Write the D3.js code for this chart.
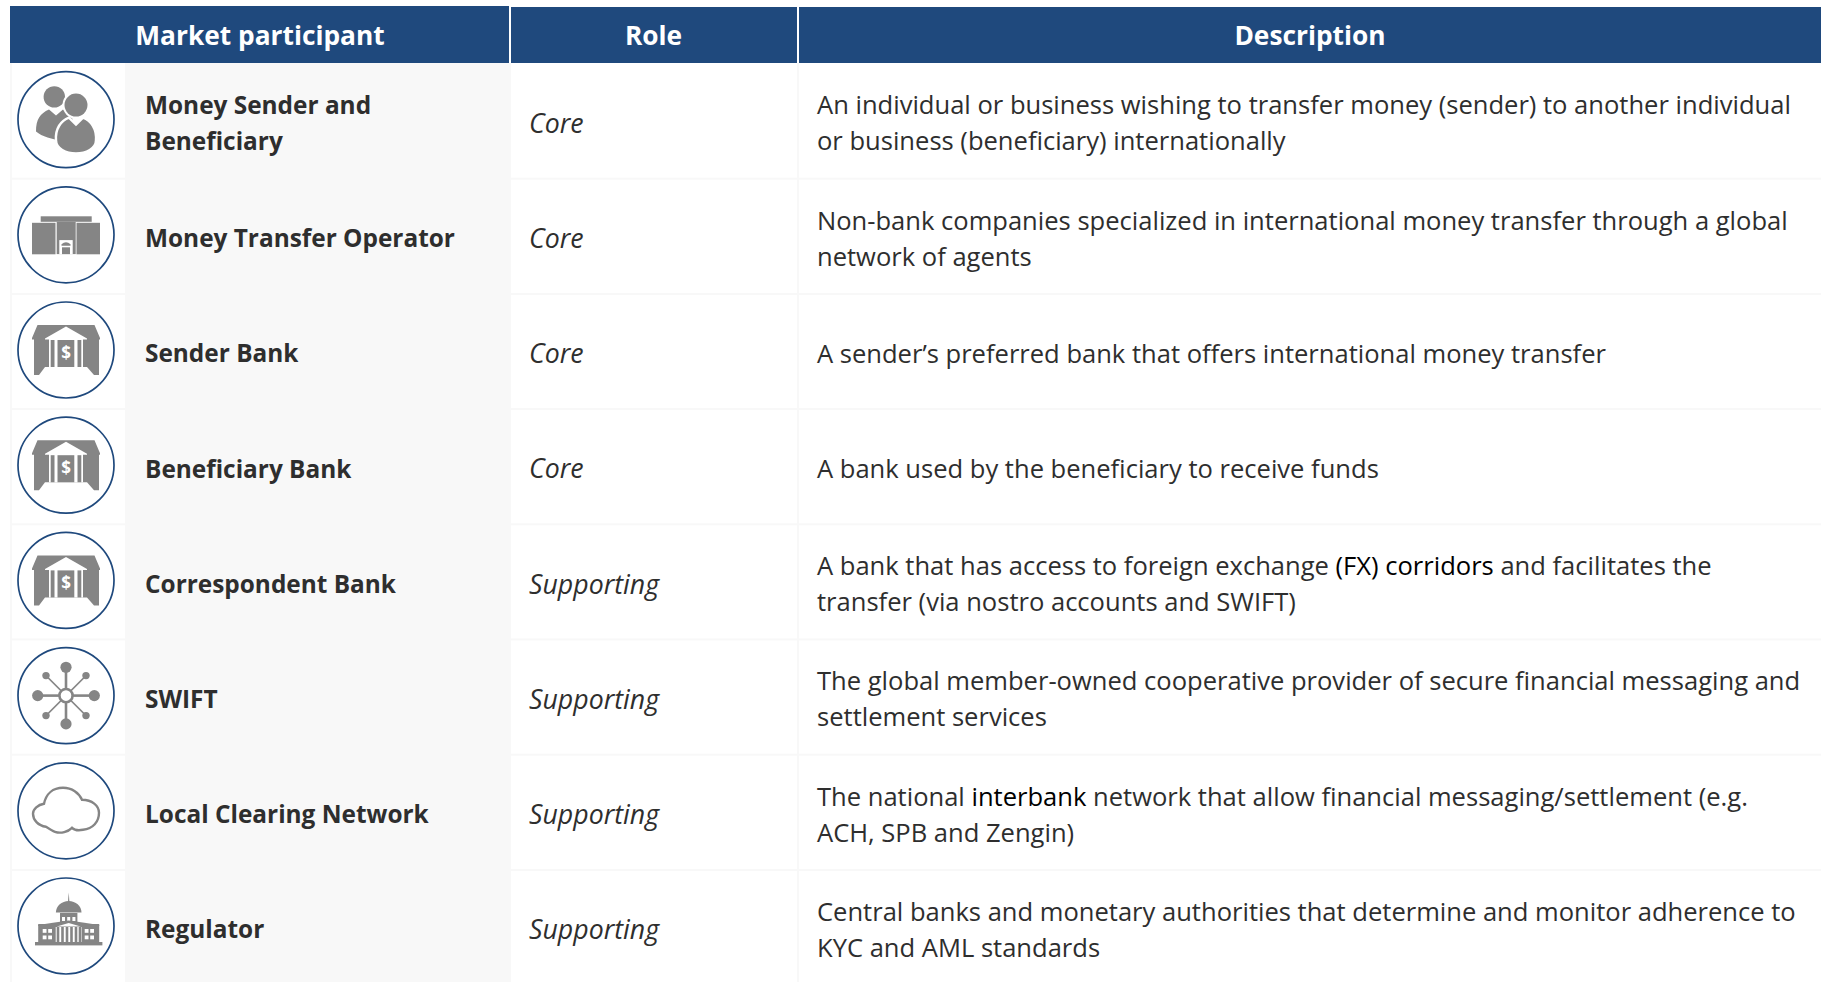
<!DOCTYPE html>
<html>
<head>
<meta charset="utf-8">
<script src="https://cdn.jsdelivr.net/npm/d3@7"></script>
<style>
html, body { margin: 0; padding: 0; background: #fff; overflow: hidden; }
svg { display: block; }
text { font-family: "Open Sans", sans-serif; }
</style>
</head>
<body>
<div id="main_area"></div>
<script>
var headers = ["Market participant", "Role", "Description"];
var participants = ["Money Sender and Beneficiary", "Money Transfer Operator", "Sender Bank", "Beneficiary Bank",
    "Correspondent Bank", "SWIFT", "Local Clearing Network", "Regulator"];
var participantLines = [["Money Sender and", "Beneficiary"], ["Money Transfer Operator"], ["Sender Bank"], ["Beneficiary Bank"],
    ["Correspondent Bank"], ["SWIFT"], ["Local Clearing Network"], ["Regulator"]];
var roles = ["Core", "Core", "Core", "Core", "Supporting", "Supporting", "Supporting", "Supporting"];
var icons = ["people", "operator", "bank", "bank", "bank", "network", "cloud", "capitol"];
var descriptions = [
    ["An individual or business wishing to transfer money (sender) to another individual", "or business (beneficiary) internationally"],
    ["Non-bank companies specialized in international money transfer through a global", "network of agents"],
    ["A sender\u2019s preferred bank that offers international money transfer"],
    ["A bank used by the beneficiary to receive funds"],
    ["A bank that has access to foreign exchange |(FX) corridors| and facilitates the", "transfer (via nostro accounts and SWIFT)"],
    ["The global member-owned cooperative provider of secure financial messaging and", "settlement services"],
    ["The national |interbank| network that allow financial messaging/settlement (e.g.", "ACH, SPB and Zengin)"],
    ["Central banks and monetary authorities that determine and monitor adherence to", "KYC and AML standards"]
];

var width = 1821, height = 982;
var navy = "#1f497d", grey = "#858585", ink = "#2e2e2e";

function shape(g, path, fill) {
    return g.append("path").attr("d", path).attr("fill", fill || grey);
}
function box(g, x, y, w, h, fill) {
    return g.append("rect").attr("x", x).attr("y", y).attr("width", w).attr("height", h).attr("fill", fill || grey);
}

var drawIcon = {
    people: function (g) {
        g.append("circle").attr("cx", -11.7).attr("cy", -22.7).attr("r", 10.7).attr("fill", grey);
        shape(g, "M-30,12 C-30,0 -26,-6 -17,-10 L-10,-4 L-3,-10 C3,-8 8,-3 8,10 L-3,21 C-14,20 -24,17 -30,12Z");
        g.append("circle").attr("cx", 10).attr("cy", -14.5).attr("r", 13.5).attr("fill", "#fff");
        g.append("circle").attr("cx", 10).attr("cy", -14.5).attr("r", 11.5).attr("fill", grey);
        shape(g, "M-10,21 C-11,9 -5,1 3,-2 L10,5 L17,-2 C25,1 31,9 30,21 C30,29 20,34 10,34 C0,34 -10,29 -10,21Z")
            .attr("stroke", "#fff").attr("stroke-width", 2.5);
    },
    operator: function (g) {
        box(g, -25.3, -18.5, 51, 5.5);
        box(g, -34, -12, 23.5, 31.5);
        box(g, 10.5, -12, 23.5, 31.5);
        box(g, -9.3, -13, 19, 32.3);
        box(g, -6.7, 5.3, 13.4, 14, "#fff");
        shape(g, "M-4.5,11 L-4.5,9.5 Q0,5.5 4.5,9.5 L4.5,11Z");
        box(g, -4, 12.5, 8, 6.8);
    },
    bank: function (g) {
        shape(g, "M-28.5,-25 L28.5,-25 L34,-12 L34,-10.5 L33,-10.5 L33,25 L28,25 L21,17 L-21,17 L-27,25 L-32,25 L-32,-10.5 L-34,-10.5 L-34,-12Z");
        shape(g, "M0,-23.5 L21,-11.5 L21,-10.5 L17,-10.5 L17,17 L-17,17 L-17,-10.5 L-21,-10.5 L-21,-11.5Z", "#fff");
        box(g, -15.3, -10, 3.8, 27);
        box(g, 11.5, -10, 3.8, 27);
        box(g, -8.5, -10, 16.8, 27);
        g.append("text").attr("x", 0).attr("y", 9).attr("text-anchor", "middle")
            .attr("font-size", 17).attr("font-weight", 700).attr("fill", "#fff").text("$");
    },
    network: function (g) {
        var big = [[0, -28.3], [28.3, 0], [0, 28.3], [-28.3, 0]];
        var small = [[-20, -20], [20, -20], [20, 20], [-20, 20]];
        big.forEach(function (p) {
            g.append("line").attr("x2", p[0]).attr("y2", p[1]).attr("stroke", grey).attr("stroke-width", 2.6);
            g.append("circle").attr("cx", p[0]).attr("cy", p[1]).attr("r", 5.6).attr("fill", grey);
        });
        small.forEach(function (p) {
            g.append("line").attr("x2", p[0]).attr("y2", p[1]).attr("stroke", grey).attr("stroke-width", 1.5);
            g.append("circle").attr("cx", p[0]).attr("cy", p[1]).attr("r", 3.7).attr("fill", grey);
        });
        g.append("circle").attr("r", 6.6).attr("fill", "#fff").attr("stroke", grey).attr("stroke-width", 2.6);
    },
    cloud: function (g) {
        g.append("path")
            .attr("d", "M-22,-7 C-20,-17 -13,-23 -3,-23 C6,-23 13,-18 16,-11 C26,-11 33,-5 33,2 C33,11 27,18 17,19 C12,20 8,19 6,17 C2,21 -5,23 -11,21 C-14,20 -17,18 -20,16 C-28,15 -33,9 -33,3 C-33,-2 -28,-6 -22,-7Z")
            .attr("fill", "none")
            .attr("stroke", grey)
            .attr("stroke-width", 2.4);
    },
    capitol: function (g) {
        var c = g.append("g").attr("transform", "translate(2.7,0)");
        shape(c, "M-0.9,-22 L0,-33.5 L0.9,-22Z");
        shape(c, "M-12.8,-13.5 C-12.8,-20 -7,-25 0,-25 C7,-25 12.8,-20 12.8,-13.5Z");
        box(c, -8.7, -13, 17.4, 10);
        [-6.7, -1.5, 3.7].forEach(function (x) { box(c, x, -9, 3, 4, "#fff"); });
        box(c, -30.5, -2, 61, 18);
        shape(c, "M-30.5,-1 L-14,-3.5 L0,-5.5 L14,-3.5 L30.5,-1 L30.5,0 L-30.5,0Z");
        shape(c, "M-12,0.5 L0,-3 L12,0.5Z", "#fff");
        box(c, -13, 1, 26, 15, "#fff");
        [-12, -7.5, -3, 1.5, 6, 10].forEach(function (x) { box(c, x, 1, 2.6, 15); });
        [-26, -20.5, 16, 21.5].forEach(function (x) {
            box(c, x, 3, 3.8, 3.8, "#fff");
            box(c, x, 9.5, 3.8, 3.8, "#fff");
        });
        box(c, -33.7, 16, 67.4, 3.4);
    }
};

var svg = d3.select("div#main_area").append("svg")
    .attr("width", width)
    .attr("height", height);

// 行的位置
var yRow = d3.scaleBand()
    .domain(participants)
    .range([63.5, 63.5 + 8 * 115.2])
    .paddingInner(0.0174)
    .paddingOuter(0.0087);

// 表头
var headerCells = [[10, 6, 499], [511, 7, 286], [799, 7, 1022]];
var headerG = svg.append("g").selectAll("g").data(headers).enter().append("g");
headerG.append("rect")
    .attr("x", function (d, i) { return headerCells[i][0]; })
    .attr("y", function (d, i) { return headerCells[i][1]; })
    .attr("width", function (d, i) { return headerCells[i][2]; })
    .attr("height", function (d, i) { return 63 - headerCells[i][1]; })
    .attr("fill", navy);
headerG.append("text")
    .attr("x", function (d, i) { return [260, 653.5, 1310][i]; })
    .attr("y", 45)
    .attr("text-anchor", "middle")
    .attr("font-size", 26.3)
    .attr("font-weight", 700)
    .attr("fill", "#fff")
    .text(function (d) { return d; });

// 背景
svg.append("rect").attr("x", 125).attr("y", 63).attr("width", 386).attr("height", height - 63).attr("fill", "#f8f8f8");
svg.append("rect").attr("x", 797).attr("y", 63).attr("width", 2).attr("height", height - 63).attr("fill", "#f8f8f8");

var rows = svg.append("g").selectAll("g").data(participants).enter().append("g")
    .attr("transform", function (d) { return "translate(0," + yRow(d) + ")"; });

// 行之间的分隔
rows.append("rect").attr("x", 12).attr("y", yRow.bandwidth()).attr("width", 113).attr("height", 2).attr("fill", "#f8f8f8");
rows.append("rect").attr("x", 511).attr("y", yRow.bandwidth()).attr("width", width - 511).attr("height", 2).attr("fill", "#f8f8f8");
svg.append("rect").attr("x", 10).attr("y", 63).attr("width", 2).attr("height", height - 63).attr("fill", "#f8f8f8");

var mid = yRow.bandwidth() / 2;

rows.append("circle")
    .attr("cx", 66).attr("cy", mid - 1.5).attr("r", 48)
    .attr("fill", "#fff")
    .attr("stroke", navy)
    .attr("stroke-width", 1.7);

// 参与者名称
rows.each(function (d, i) {
    var lines = participantLines[i];
    d3.select(this).selectAll("text.name").data(lines).enter().append("text")
        .attr("class", "name")
        .attr("x", 145)
        .attr("y", function (l, j) { return mid + 11 - (lines.length - 1) * 18 + j * 36; })
        .attr("font-size", 24.4)
        .attr("font-weight", 700)
        .attr("fill", ink)
        .text(function (l) { return l; });
});

// 角色
rows.append("text")
    .attr("x", 529)
    .attr("y", mid + 11.7)
    .attr("font-size", 26.7)
    .attr("font-style", "italic")
    .attr("fill", ink)
    .text(function (d, i) { return roles[i]; });

// 描述，|...| 之间的文字颜色更深
rows.each(function (d, i) {
    var lines = descriptions[i];
    var row = d3.select(this);
    lines.forEach(function (line, j) {
        var t = row.append("text")
            .attr("x", 817)
            .attr("y", mid + 11.3 - (lines.length - 1) * 18 + j * 36)
            .attr("font-size", 25.55)
            .attr("fill", ink);
        line.split("|").forEach(function (part, k) {
            t.append("tspan").attr("fill", k % 2 ? "#000" : ink).text(part);
        });
    });
});

// 图标
rows.append("g")
    .attr("transform", "translate(66," + (mid - 1.5) + ")")
    .each(function (d, i) {
        drawIcon[icons[i]](d3.select(this));
    });
</script>
</body>
</html>
